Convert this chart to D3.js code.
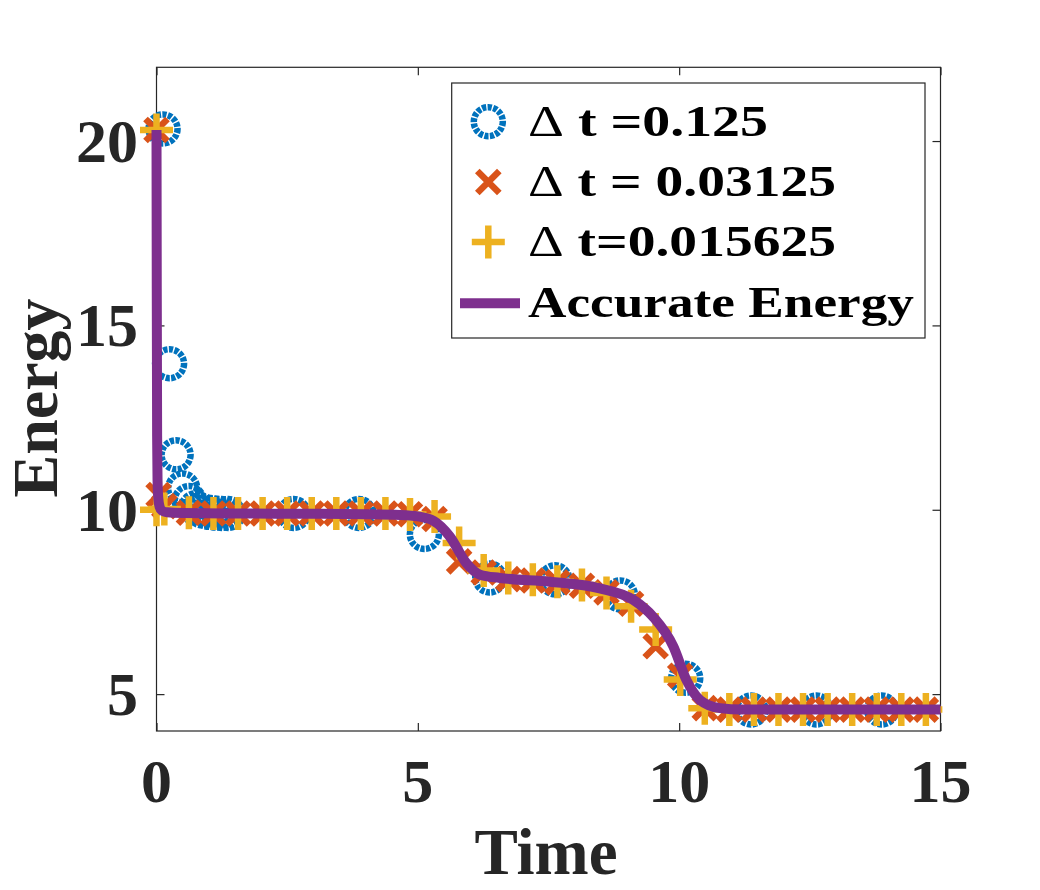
<!DOCTYPE html>
<html>
<head>
<meta charset="utf-8">
<script src="https://cdn.jsdelivr.net/npm/d3@7"></script>
<style>
    body { margin: 0; background: #fff; }
    svg { display: block; }
</style>
</head>
<body>
<div id="chart"></div>
<script>
// accurate energy curve
const accTime = [0, 0.005, 0.012, 0.02, 0.035, 0.06, 0.1, 0.2, 0.5, 1.5, 3.0, 4.0, 4.66, 5.0, 5.3, 5.61, 5.93, 6.19, 6.57, 7.53, 8.48, 9.12, 9.5, 9.89, 10.14, 10.4, 10.78, 11.2, 15];
const accEnergy = [20.3, 16, 12, 10.8, 10.3, 10.08, 9.98, 9.93, 9.91, 9.9, 9.89, 9.88, 9.86, 9.82, 9.7, 9.28, 8.55, 8.24, 8.15, 8.05, 7.87, 7.56, 7.1, 6.29, 5.38, 4.84, 4.62, 4.58, 4.58];

// dt = 0.125 (circles)
const circTime = [0.125, 0.25, 0.375, 0.5, 0.625, 0.75, 0.875, 1.0, 1.125, 1.25, 1.375, 2.625, 3.875, 5.125, 6.375, 7.625, 8.875, 10.125, 11.375, 12.625, 13.875];
const circEnergy = [20.33, 13.96, 11.49, 10.59, 10.25, 10.05, 9.97, 9.93, 9.91, 9.9, 9.9, 9.9, 9.9, 9.33, 8.15, 8.1, 7.69, 5.43, 4.57, 4.57, 4.57];

// dt = 0.03125 (crosses)
const crossTime = [0, 0.04, 0.15, 0.62, 1.09, 1.56, 2.03, 2.5, 2.97, 3.44, 3.91, 4.38, 4.85, 5.32, 5.79, 6.26, 6.73, 7.2, 7.67, 8.14, 8.61, 9.08, 9.55, 10.02, 10.49, 10.96, 11.43, 11.9, 12.37, 12.84, 13.31, 13.78, 14.25, 14.72];
const crossEnergy = [20.3, 10.4, 10.1, 9.92, 9.9, 9.9, 9.9, 9.9, 9.9, 9.9, 9.9, 9.9, 9.88, 9.75, 8.6, 8.3, 8.12, 8.08, 8.03, 7.94, 7.76, 7.45, 6.3, 5.5, 4.62, 4.58, 4.58, 4.58, 4.58, 4.58, 4.58, 4.58, 4.58, 4.58];

// dt = 0.015625 (pluses)
const plusTime = [0, 0, 0.15, 0.62, 1.09, 1.56, 2.03, 2.5, 2.97, 3.44, 3.91, 4.38, 4.85, 5.32, 5.79, 6.26, 6.73, 7.2, 7.67, 8.14, 8.61, 9.08, 9.55, 10.02, 10.49, 10.96, 11.43, 11.9, 12.37, 12.84, 13.31, 13.78, 14.25, 14.72];
const plusEnergy = [20.3, 10.0, 10.02, 9.92, 9.9, 9.9, 9.9, 9.9, 9.9, 9.9, 9.9, 9.9, 9.87, 9.82, 9.1, 8.35, 8.15, 8.1, 8.05, 7.96, 7.74, 7.38, 6.75, 5.4, 4.62, 4.58, 4.58, 4.58, 4.58, 4.58, 4.58, 4.58, 4.58, 4.58];

const xTicks = [0, 5, 10, 15];
const yTicks = [5, 10, 15, 20];
// [prefix drawn in regular weight, rest in bold]
const legendLabels = [["\u0394", " t =0.125"], ["\u0394", " t = 0.03125"], ["\u0394", " t=0.015625"], ["", "Accurate Energy"]];

const colors = {
    circ: "#0072BD",
    cross: "#D95319",
    plus: "#EDB120",
    line: "#7E2F8E",
    axis: "#262626"
};
const serif = "'Liberation Serif', 'Times New Roman', serif";

const W = 1040, H = 890;
const box = { left: 156.5, right: 940.5, top: 67.3, bottom: 731 };

const svg = d3.select("#chart")
    .append("svg")
    .attr("width", W)
    .attr("height", H)
    .attr("viewBox", `0 0 ${W} ${H}`);

const x = d3.scaleLinear().domain([0, 15]).range([box.left, box.right]);
const y = d3.scaleLinear().domain([4, 22]).range([box.bottom, box.top]);

// axes box
svg.append("rect")
    .attr("x", box.left)
    .attr("y", box.top)
    .attr("width", box.right - box.left)
    .attr("height", box.bottom - box.top)
    .attr("fill", "none")
    .attr("stroke", colors.axis)
    .attr("stroke-width", 1.2);

const tickLen = 8;
svg.append("g")
    .attr("transform", `translate(0,${box.bottom})`)
    .call(d3.axisBottom(x).tickValues(xTicks).tickSize(-tickLen).tickFormat(""))
    .call(g => g.select(".domain").remove());
svg.append("g")
    .attr("transform", `translate(0,${box.top})`)
    .call(d3.axisTop(x).tickValues(xTicks).tickSize(-tickLen).tickFormat(""))
    .call(g => g.select(".domain").remove());
svg.append("g")
    .attr("transform", `translate(${box.left},0)`)
    .call(d3.axisLeft(y).tickValues(yTicks).tickSize(-tickLen).tickFormat(""))
    .call(g => g.select(".domain").remove());
svg.append("g")
    .attr("transform", `translate(${box.right},0)`)
    .call(d3.axisRight(y).tickValues(yTicks).tickSize(-tickLen).tickFormat(""))
    .call(g => g.select(".domain").remove());
svg.selectAll(".tick line").attr("stroke", colors.axis).attr("stroke-width", 1.2);

// tick labels
svg.append("g").selectAll("text")
    .data(xTicks)
    .enter().append("text")
    .attr("x", d => x(d))
    .attr("y", 802)
    .attr("text-anchor", "middle")
    .attr("font-family", serif)
    .attr("font-weight", "bold")
    .attr("font-size", "62px")
    .attr("fill", colors.axis)
    .text(d => d);

svg.append("g").selectAll("text")
    .data(yTicks)
    .enter().append("text")
    .attr("x", 138)
    .attr("y", d => y(d))
    .attr("dy", "0.34em")
    .attr("text-anchor", "end")
    .attr("font-family", serif)
    .attr("font-weight", "bold")
    .attr("font-size", "62px")
    .attr("fill", colors.axis)
    .text(d => d);

// axis labels
svg.append("text")
    .attr("x", 546)
    .attr("y", 874)
    .attr("text-anchor", "middle")
    .attr("font-family", serif)
    .attr("font-weight", "bold")
    .attr("font-size", "65px")
    .attr("fill", colors.axis)
    .text("Time");

svg.append("text")
    .attr("transform", "translate(57,398) rotate(-90)")
    .attr("text-anchor", "middle")
    .attr("font-family", serif)
    .attr("font-weight", "bold")
    .attr("font-size", "64px")
    .attr("fill", colors.axis)
    .text("Energy");

// marker shapes
const circleR = 14.5, markW = 6.5, crossH = 11, plusH = 16.5;
const crossPath = h => `M${-h},${-h}L${h},${h}M${-h},${h}L${h},${-h}`;
const plusPath = h => `M${-h},0L${h},0M0,${-h}L0,${h}`;

const zip = (a, b) => a.map((t, i) => [t, b[i]]);

const marks = svg.append("g");

marks.append("g").selectAll("circle")
    .data(zip(circTime, circEnergy))
    .enter().append("circle")
    .attr("cx", d => x(d[0]))
    .attr("cy", d => y(d[1]))
    .attr("r", circleR)
    .attr("fill", "none")
    .attr("stroke", colors.circ)
    .attr("stroke-width", markW)
    .attr("stroke-dasharray", "4.2 1.4");

marks.append("g").selectAll("path")
    .data(zip(crossTime, crossEnergy))
    .enter().append("path")
    .attr("transform", d => `translate(${x(d[0])},${y(d[1])})`)
    .attr("d", crossPath(crossH))
    .attr("stroke", colors.cross)
    .attr("stroke-width", markW)
    .attr("fill", "none");

marks.append("g").selectAll("path")
    .data(zip(plusTime, plusEnergy))
    .enter().append("path")
    .attr("transform", d => `translate(${x(d[0])},${y(d[1])})`)
    .attr("d", plusPath(plusH))
    .attr("stroke", colors.plus)
    .attr("stroke-width", markW)
    .attr("fill", "none");

// accurate energy line
const line = d3.line()
    .x(d => x(d[0]))
    .y(d => y(d[1]))
    .curve(d3.curveMonotoneX);

svg.append("path")
    .datum(zip(accTime, accEnergy))
    .attr("d", line)
    .attr("fill", "none")
    .attr("stroke", colors.line)
    .attr("stroke-width", 10)
    .attr("stroke-linejoin", "round");

// legend
const legend = svg.append("g");
legend.append("rect")
    .attr("x", 451.7)
    .attr("y", 83)
    .attr("width", 473.3)
    .attr("height", 255)
    .attr("fill", "#fff")
    .attr("stroke", colors.axis)
    .attr("stroke-width", 1.2);

const rowY = [121.7, 182, 242, 303.3];
const textLen = [240, 308, 308, 386];
const symX = 488.3;

legend.append("circle")
    .attr("cx", symX).attr("cy", rowY[0])
    .attr("r", circleR)
    .attr("fill", "none")
    .attr("stroke", colors.circ)
    .attr("stroke-width", markW)
    .attr("stroke-dasharray", "4.2 1.4");
legend.append("path")
    .attr("transform", `translate(${symX},${rowY[1]})`)
    .attr("d", crossPath(crossH))
    .attr("stroke", colors.cross)
    .attr("stroke-width", markW);
legend.append("path")
    .attr("transform", `translate(${symX},${rowY[2]})`)
    .attr("d", plusPath(plusH))
    .attr("stroke", colors.plus)
    .attr("stroke-width", markW);
legend.append("line")
    .attr("x1", 460).attr("x2", 520)
    .attr("y1", rowY[3]).attr("y2", rowY[3])
    .attr("stroke", colors.line)
    .attr("stroke-width", 10);

const legendText = legend.selectAll("text")
    .data(legendLabels)
    .enter().append("text")
    .attr("x", 528)
    .attr("y", (d, i) => rowY[i] + 14)
    .attr("font-family", serif)
    .attr("font-weight", "bold")
    .attr("font-size", "44px")
    .attr("fill", "#000")
    .attr("textLength", (d, i) => textLen[i])
    .attr("lengthAdjust", "spacingAndGlyphs");

legendText.append("tspan")
    .attr("font-weight", "normal")
    .text(d => d[0]);
legendText.append("tspan")
    .text(d => d[1]);
</script>
</body>
</html>
